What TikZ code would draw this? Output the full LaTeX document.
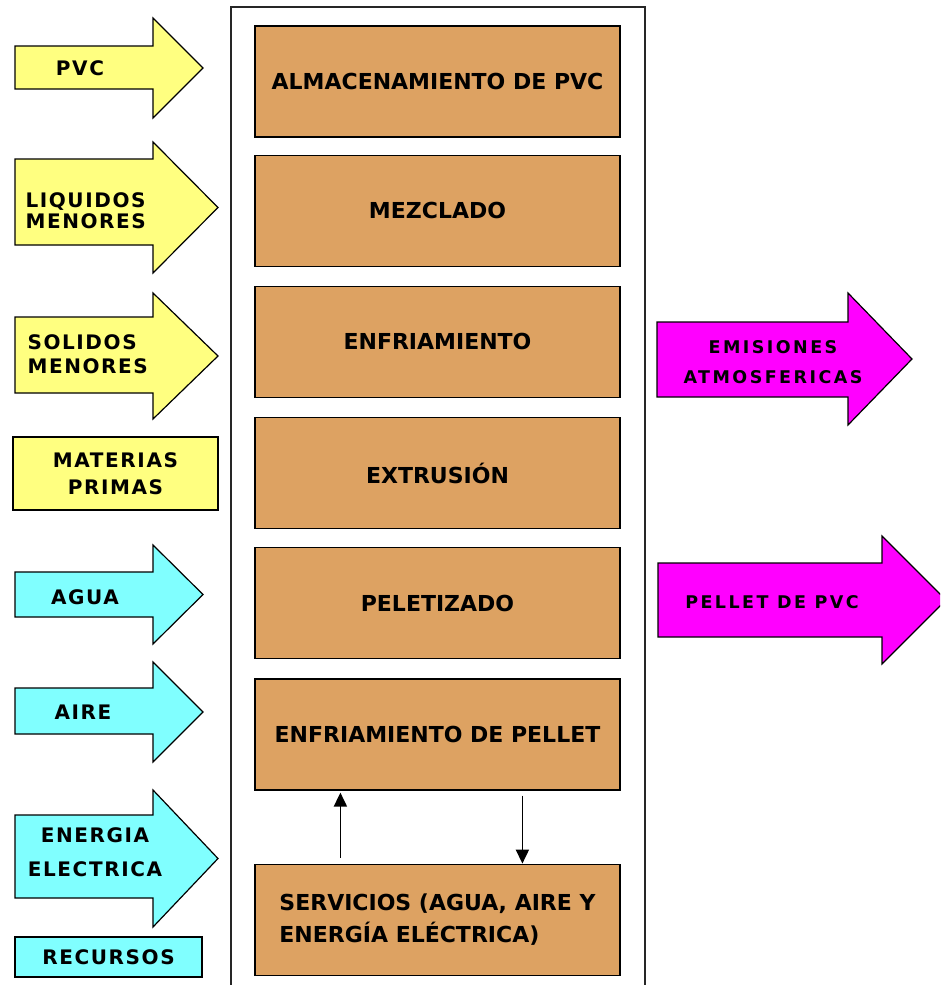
\documentclass[tikz,border=0pt]{standalone}
\usepackage{fontspec}
\setmainfont{DejaVu Sans}
\newfontfamily\rotulo[LetterSpace=8]{DejaVu Sans}
\newfontfamily\rotulosal[LetterSpace=14]{DejaVu Sans}
\usetikzlibrary{positioning, calc, arrows.meta}
\definecolor{cafe}{RGB}{221,162,98}
\definecolor{amarillo}{RGB}{255,255,128}
\definecolor{celeste}{RGB}{128,255,255}
\definecolor{fucsia}{RGB}{255,0,255}
\tikzstyle{proceso} = [rectangle, minimum width=365pt, minimum height=111pt, text centered, draw=black, line width=1.2pt, fill=cafe, font=\bfseries\fontsize{22}{32}\selectfont]
\tikzstyle{entrada} = [font=\rotulo\bfseries\fontsize{20}{24}\selectfont, align=center]
\tikzstyle{salida} = [font=\rotulosal\bfseries\fontsize{17.5}{30}\selectfont, align=center]
\tikzstyle{caja} = [rectangle, draw=black, line width=1.2pt, font=\rotulo\bfseries\fontsize{20}{27}\selectfont, align=center]
\tikzstyle{contorno} = [draw=black, line width=1.2pt]
\tikzstyle{conector} = [line width=1.8pt, -{Triangle[length=14pt, width=13pt]}]
% flecha gruesa: color, x inicio, x cabeza, x punta, cuerpo arriba, cuerpo abajo, cabeza arriba, cabeza abajo
\newcommand{\flecha}[8]{\draw[contorno, fill=#1] (#2,#5) -- (#3,#5) -- (#3,#7) -- (#4,{(#7+#8)/2}) -- (#3,#8) -- (#3,#6) -- (#2,#6) -- cycle;}

\begin{document}
\begin{tikzpicture}[x=1pt, y=-1pt]
  \useasboundingbox (0,0) rectangle (940,985);
  \clip (0,0) rectangle (940,985);

  % marco del proceso
  \draw[line width=1.6pt, draw=black!85] (231,7) rectangle (645,1000);

  % etapas
  \node (alm) [proceso] at (437.5,81.5) {ALMACENAMIENTO DE PVC};
  \node (mez) [proceso, below=17pt of alm] {MEZCLADO};
  \node (enf) [proceso, below=19pt of mez] {ENFRIAMIENTO};
  \node (ext) [proceso, below=19pt of enf] {EXTRUSIÓN};
  \node (pel) [proceso, below=18pt of ext] {PELETIZADO};
  \node (enfp) [proceso, below=19pt of pel] {ENFRIAMIENTO DE PELLET};
  \node (serv) [proceso, below=73pt of enfp, align=left] {SERVICIOS (AGUA, AIRE Y\\ENERGÍA ELÉCTRICA)};

  \draw [conector, shorten <=6pt, shorten >=2pt] ($(serv.north west)+(86,0)$) -- ($(enfp.south west)+(86,0)$);
  \draw [conector, shorten <=5pt] ($(enfp.south west)+(268,0)$) -- ($(serv.north west)+(268,0)$);

  % materias primas
  \flecha{amarillo}{15}{153}{203}{46}{89}{18}{118}
  \flecha{amarillo}{15}{153}{218}{159}{245}{142}{273}
  \flecha{amarillo}{15}{153}{218}{317}{393}{293}{419}
  \node (pvc) [entrada] at (80,68) {PVC};
  \node (liq) [entrada, anchor=west, align=left] at (22,211) {LIQUIDOS\\[-3pt]MENORES};
  \node (sol) [entrada, anchor=west, align=left] at (24,354) {SOLIDOS\\MENORES};
  \node (mat) [caja, fill=amarillo, minimum width=205pt, minimum height=73pt] at (115.5,473.5) {MATERIAS\\PRIMAS};

  % recursos
  \flecha{celeste}{15}{153}{203}{572}{617}{545}{644}
  \flecha{celeste}{15}{153}{203}{688}{734}{662}{762}
  \flecha{celeste}{15}{153}{218}{815}{898}{790}{927}
  \node (agua) [entrada] at (85,597) {AGUA};
  \node (aire) [entrada] at (83,712) {AIRE};
  \node (ener) [entrada] at (95,852) {ENERGIA\\[10pt]ELECTRICA};
  \node (rec) [caja, fill=celeste, minimum width=187pt, minimum height=40pt] at (108.5,957) {RECURSOS};

  % salidas
  \flecha{fucsia}{657}{848}{912}{322}{397}{293}{425}
  \flecha{fucsia}{658}{882}{946}{563}{637}{536}{664}
  \node (emi) [salida] at (773,362) {EMISIONES\\ATMOSFERICAS};
  \node (pell) [salida] at (772,602) {PELLET DE PVC};
\end{tikzpicture}
\end{document}
